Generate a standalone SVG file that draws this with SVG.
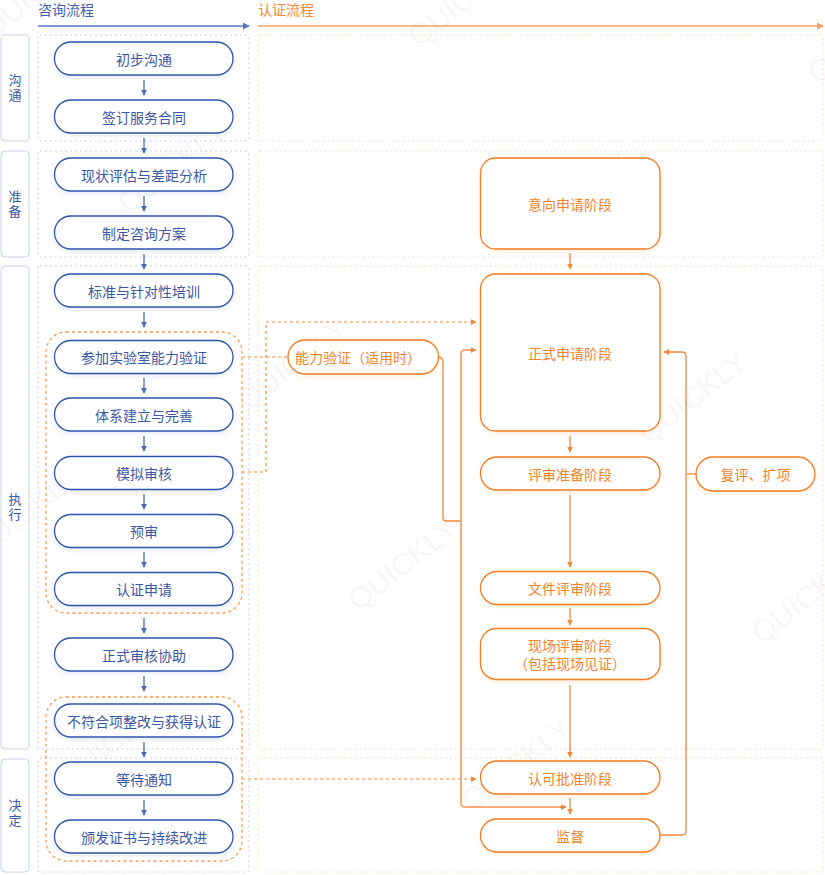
<svg xmlns="http://www.w3.org/2000/svg" width="825" height="875" viewBox="0 0 825 875">
<defs>
<style>
text{font-family:"Noto Sans CJK SC","Noto Sans",sans-serif;}
.bn{fill:#fff;stroke:#2f55ad;stroke-width:1.3;filter:url(#sh);}
.bt{fill:#3b58a6;font-size:14px;text-anchor:middle;dominant-baseline:central;}
.on{fill:#fff;stroke:#f47b20;stroke-width:1.3;filter:url(#sho);}
.ot{fill:#f2842e;font-size:14px;text-anchor:middle;dominant-baseline:central;}
.lane{fill:#fff;stroke:#c9d4ec;stroke-width:1;}
.lt{fill:#3b58a6;font-size:13px;text-anchor:middle;writing-mode:vertical-rl;letter-spacing:2px;}
.ld{fill:none;stroke:#d6def2;stroke-width:1.5;stroke-dasharray:2 3;}
.rd{fill:none;stroke:#fde6d5;stroke-width:1.5;stroke-dasharray:2 3;}
.grp{fill:none;stroke:#f79a52;stroke-width:1.3;stroke-dasharray:3 3;}
.ba{stroke:#4b68b4;stroke-width:1.3;fill:none;marker-end:url(#mb);}
.oa{stroke:#f5883a;stroke-width:1.3;fill:none;marker-end:url(#mo);}
.ol{stroke:#f5883a;stroke-width:1.3;fill:none;}
.olt{stroke:#f8ad78;stroke-width:2;fill:none;}
.od{stroke:#f58a3c;stroke-width:1.2;fill:none;stroke-dasharray:3 3;}
.wm{fill:#000;fill-opacity:0.05;font-family:"Liberation Sans",sans-serif;font-size:30px;}
</style>
<marker id="mb" viewBox="0 0 8 8" refX="7" refY="4" markerWidth="6" markerHeight="6" markerUnits="userSpaceOnUse" orient="auto"><path d="M0,0 L8,4 L0,8 z" fill="#4b68b4"/></marker>
<marker id="mo" viewBox="0 0 8 8" refX="7" refY="4" markerWidth="6" markerHeight="6" markerUnits="userSpaceOnUse" orient="auto"><path d="M0,0 L8,4 L0,8 z" fill="#f5883a"/></marker>
<marker id="mhb" viewBox="0 0 8 8" refX="7" refY="4" markerWidth="7" markerHeight="7" markerUnits="userSpaceOnUse" orient="auto"><path d="M0,0 L8,4 L0,8 z" fill="#5a78c4"/></marker>
<marker id="mho" viewBox="0 0 8 8" refX="7" refY="4" markerWidth="7" markerHeight="7" markerUnits="userSpaceOnUse" orient="auto"><path d="M0,0 L8,4 L0,8 z" fill="#f7a064"/></marker>
<filter id="sh" x="-10%" y="-30%" width="120%" height="170%"><feDropShadow dx="0" dy="2" stdDeviation="2" flood-color="#2f55ad" flood-opacity="0.12"/></filter>
<filter id="sho" x="-10%" y="-30%" width="120%" height="170%"><feDropShadow dx="0" dy="2" stdDeviation="2" flood-color="#f47b20" flood-opacity="0.12"/></filter>
</defs>
<rect width="825" height="875" fill="#fff"/>

<g id="headers">
<text x="38" y="15" font-size="14" fill="#3f5fb0">咨询流程</text>
<line x1="38" y1="26" x2="249" y2="26" stroke="#5a78c4" stroke-width="1.5" marker-end="url(#mhb)"/>
<text x="258" y="15" font-size="14" fill="#f58a3c">认证流程</text>
<line x1="258" y1="26" x2="823" y2="26" stroke="#f7a064" stroke-width="1.5" marker-end="url(#mho)"/>
</g>

<g id="lanes">
<rect class="lane" x="1" y="35" width="28" height="106" rx="4"/>
<text class="lt" x="15" y="89">沟通</text>
<rect class="lane" x="1" y="151" width="28" height="106" rx="4"/>
<text class="lt" x="15" y="205">准备</text>
<rect class="lane" x="1" y="266" width="28" height="483" rx="4"/>
<text class="lt" x="15" y="508">执行</text>
<rect class="lane" x="1" y="759" width="28" height="113" rx="4"/>
<text class="lt" x="15" y="814">决定</text>
<rect class="ld" x="38" y="35" width="211" height="106" rx="2"/>
<rect class="ld" x="38" y="151" width="211" height="106" rx="2"/>
<rect class="ld" x="38" y="266" width="211" height="483" rx="2"/>
<rect class="ld" x="38" y="758" width="211" height="114" rx="2"/>
<rect class="rd" x="258" y="35" width="565" height="106" rx="2"/>
<rect class="rd" x="258" y="151" width="565" height="106" rx="2"/>
<rect class="rd" x="258" y="266" width="565" height="483" rx="2"/>
<rect class="rd" x="258" y="758" width="565" height="114" rx="2"/>
</g>

<g id="watermark">
<text class="wm" transform="translate(-8,40) rotate(-38)">QUICKLY</text>
<text class="wm" transform="translate(418,48) rotate(-38)">QUICKLY</text>
<text class="wm" transform="translate(128,215) rotate(-38)">QUICKLY</text>
<text class="wm" transform="translate(530,245) rotate(-38)">QUICKLY</text>
<text class="wm" transform="translate(818,85) rotate(-38)">QUICKLY</text>
<text class="wm" transform="translate(248,412) rotate(-38)">QUICKLY</text>
<text class="wm" transform="translate(648,445) rotate(-38)">QUICKLY</text>
<text class="wm" transform="translate(-20,560) rotate(-38)">QUICKLY</text>
<text class="wm" transform="translate(358,612) rotate(-38)">QUICKLY</text>
<text class="wm" transform="translate(762,645) rotate(-38)">QUICKLY</text>
<text class="wm" transform="translate(68,790) rotate(-38)">QUICKLY</text>
<text class="wm" transform="translate(472,812) rotate(-38)">QUICKLY</text>
</g>

<g id="groups">
<rect class="grp" x="46" y="332" width="196" height="281" rx="20"/>
<rect class="grp" x="46" y="697" width="196" height="164" rx="20"/>
</g>

<g id="connectors">
<path class="ba" d="M144,80 V95"/>
<path class="ba" d="M144,138 V153"/>
<path class="ba" d="M144,196 V211"/>
<path class="ba" d="M144,254 V269"/>
<path class="ba" d="M144,312 V327"/>
<path class="ba" d="M144,378 V393"/>
<path class="ba" d="M144,436 V451"/>
<path class="ba" d="M144,494 V509"/>
<path class="ba" d="M144,552 V567"/>
<path class="ba" d="M144,618 V633"/>
<path class="ba" d="M144,676 V691"/>
<path class="ba" d="M144,742 V757"/>
<path class="ba" d="M144,800 V815"/>

<path class="oa" d="M570,253 V269"/>
<path class="oa" d="M570,436 V452"/>
<path class="oa" d="M570,495 V567"/>
<path class="oa" d="M570,608 V625"/>
<path class="oa" d="M570,685 V757"/>
<path class="oa" d="M570,798 V814"/>

<path class="od" d="M242,472 H266 V322 H476" marker-end="url(#mo)"/>
<path class="od" d="M242,357 H288" stroke="#f8b586"/>
<path class="od" d="M242,779 H476" marker-end="url(#mo)"/>

<path class="ol" d="M438,357 Q443,357 443,362 V518 Q443,521 446,521 H461"/>
<path class="olt" d="M461,521 V354 Q461,350 465,350 H474"/>
<path class="oa" d="M470,350 H476"/>
<path class="olt" d="M461,521 V803 Q461,807 465,807 H562"/>
<path class="oa" d="M560,807 H566"/>
<path class="ol" d="M660,835 H682 Q686,835 686,831 V356 Q686,352 682,352 H664" marker-end="url(#mo)"/>
<path class="olt" d="M686,474 H696"/>
</g>

<g id="n1"><rect class="bn" x="54.5" y="42" width="178.5" height="33" rx="16.5"/><text class="bt" x="144" y="58.5">初步沟通</text></g>
<g id="n2"><rect class="bn" x="54.5" y="100" width="178.5" height="33" rx="16.5"/><text class="bt" x="144" y="116.5">签订服务合同</text></g>
<g id="n3"><rect class="bn" x="54.5" y="158" width="178.5" height="33" rx="16.5"/><text class="bt" x="144" y="174.5">现状评估与差距分析</text></g>
<g id="n4"><rect class="bn" x="54.5" y="216" width="178.5" height="33" rx="16.5"/><text class="bt" x="144" y="232.5">制定咨询方案</text></g>
<g id="n5"><rect class="bn" x="54.5" y="274" width="178.5" height="33" rx="16.5"/><text class="bt" x="144" y="290.5">标准与针对性培训</text></g>
<g id="n6"><rect class="bn" x="54.5" y="340.5" width="178.5" height="33" rx="16.5"/><text class="bt" x="144" y="357">参加实验室能力验证</text></g>
<g id="n7"><rect class="bn" x="54.5" y="398" width="178.5" height="33" rx="16.5"/><text class="bt" x="144" y="414.5">体系建立与完善</text></g>
<g id="n8"><rect class="bn" x="54.5" y="456.5" width="178.5" height="33" rx="16.5"/><text class="bt" x="144" y="473">模拟审核</text></g>
<g id="n9"><rect class="bn" x="54.5" y="514.5" width="178.5" height="33" rx="16.5"/><text class="bt" x="144" y="531">预审</text></g>
<g id="n10"><rect class="bn" x="54.5" y="572.5" width="178.5" height="33" rx="16.5"/><text class="bt" x="144" y="589">认证申请</text></g>
<g id="n11"><rect class="bn" x="54.5" y="638" width="178.5" height="33" rx="16.5"/><text class="bt" x="144" y="654.5">正式审核协助</text></g>
<g id="n12"><rect class="bn" x="54.5" y="704" width="178.5" height="33" rx="16.5"/><text class="bt" x="144" y="720.5">不符合项整改与获得认证</text></g>
<g id="n13"><rect class="bn" x="54.5" y="762" width="178.5" height="33" rx="16.5"/><text class="bt" x="144" y="778.5">等待通知</text></g>
<g id="n14"><rect class="bn" x="54.5" y="820" width="178.5" height="33" rx="16.5"/><text class="bt" x="144" y="836.5">颁发证书与持续改进</text></g>

<g id="o0"><rect class="on" x="288" y="340" width="150.5" height="34" rx="17"/><text class="ot" x="358" y="357">能力验证（适用时）</text></g>
<g id="o1"><rect class="on" x="480.5" y="158" width="179.5" height="91" rx="15"/><text class="ot" x="570" y="204">意向申请阶段</text></g>
<g id="o2"><rect class="on" x="480.5" y="274" width="179.5" height="157" rx="15"/><text class="ot" x="570" y="353">正式申请阶段</text></g>
<g id="o3"><rect class="on" x="480.5" y="457" width="179.5" height="33" rx="16.5"/><text class="ot" x="570" y="473.5">评审准备阶段</text></g>
<g id="o4"><rect class="on" x="480.5" y="571.5" width="179.5" height="33" rx="16.5"/><text class="ot" x="570" y="588">文件评审阶段</text></g>
<g id="o5"><rect class="on" x="480.5" y="628.5" width="179.5" height="51" rx="16"/><text class="ot" x="570" y="645"><tspan x="570" y="645">现场评审阶段</tspan><tspan x="570" y="663">（包括现场见证）</tspan></text></g>
<g id="o6"><rect class="on" x="480.5" y="761" width="179.5" height="33" rx="16.5"/><text class="ot" x="570" y="777.5">认可批准阶段</text></g>
<g id="o7"><rect class="on" x="480.5" y="819" width="179.5" height="33" rx="16.5"/><text class="ot" x="570" y="835.5">监督</text></g>
<g id="o8"><rect class="on" x="696" y="457" width="119" height="34" rx="17"/><text class="ot" x="755.5" y="474">复评、扩项</text></g>
</svg>
